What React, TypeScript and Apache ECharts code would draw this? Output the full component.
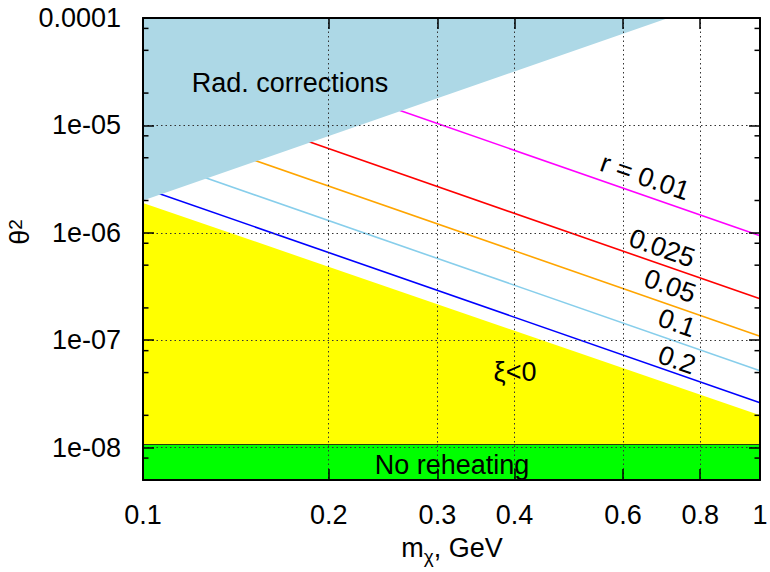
import React, { useEffect, useRef } from 'react';
import * as echarts from 'echarts';

const X_MIN = 0.1;
const X_MAX = 1;
const Y_MIN = 5e-9;
const Y_MAX = 1e-4;

const xTickValues = [0.1, 0.2, 0.3, 0.4, 0.6, 0.8, 1];
const xTickLabels = ['0.1', '0.2', '0.3', '0.4', '0.6', '0.8', '1'];
const xGridValues = [0.2, 0.3, 0.4, 0.6, 0.8];
const yTickValues = [1e-8, 1e-7, 1e-6, 1e-5, 1e-4];
const yTickLabels = ['1e-08', '1e-07', '1e-06', '1e-05', '0.0001'];
const yMinorTicks = [8e-9, 2e-8, 5e-8, 8e-8, 2e-7, 5e-7, 8e-7, 2e-6, 5e-6, 8e-6, 2e-5, 5e-5, 8e-5];

// regions
const radCorrections = [[0.1, 2.0e-6], [0.71, 1.0e-4]];
const xiNegative = [[0.1, 1.9e-6], [1, 2.0e-8]];
const noReheating = [[0.1, 1.07e-8], [1, 1.07e-8]];

// r curves
const r001 = [[0.25, 1.5e-5], [1, 9.4e-7]];
const r0025 = [[0.18, 7.5e-6], [1, 2.43e-7]];
const r005 = [[0.145, 5.18e-6], [1, 1.09e-7]];
const r01 = [[0.12, 3.61e-6], [1, 5.2e-8]];
const r02 = [[0.1, 2.62e-6], [1, 2.62e-8]];

const FONT = '"Liberation Sans", Arial, Helvetica, sans-serif';
const FS = 27;

function findLabel(vals: number[], labels: string[], v: number): string {
  for (let i = 0; i < vals.length; i++) {
    if (Math.abs(Math.log10(v) - Math.log10(vals[i])) < 1e-6) return labels[i];
  }
  return '';
}

const axisLineStyle = { color: '#000', width: 2 };
const tickLineStyle = { color: '#000', width: 1.5 };
const gridLineStyle = { color: '#333', width: 1, type: [1.5, 3] as any };

export default function App() {
  const ref = useRef<HTMLDivElement>(null);

  useEffect(() => {
    document.body.style.margin = '0';
    if (!ref.current) return;
    const chart = echarts.init(ref.current, null, { renderer: 'svg' });

    const lineSeries = (data: number[][], color: string) => ({
      type: 'line',
      data,
      symbol: 'none',
      showSymbol: false,
      silent: true,
      z: 2,
      lineStyle: { color, width: 1.6 },
    });

    const rotText = (text: string, x: number, y: number) => ({
      type: 'text',
      x,
      y,
      rotation: -0.335,
      z: 50,
      style: {
        text,
        fontSize: FS,
        fontFamily: FONT,
        fill: '#000',
        align: 'center',
        verticalAlign: 'middle',
      },
    });

    const option: any = {
      animation: false,
      backgroundColor: '#fff',
      grid: {
        left: 143,
        right: 10,
        top: 18,
        bottom: 92,
        containLabel: false,
        outerBoundsMode: 'none',
      },
      xAxis: [
        {
          type: 'log',
          logBase: 10,
          min: X_MIN,
          max: X_MAX,
          position: 'bottom',
          z: 10,
          axisLine: { show: true, onZero: false, lineStyle: axisLineStyle },
          axisTick: { show: true, inside: true, length: 11, customValues: xGridValues, lineStyle: tickLineStyle },
          axisLabel: {
            show: true,
            customValues: xTickValues,
            formatter: (v: number) => findLabel(xTickValues, xTickLabels, v),
            margin: 21,
            fontSize: FS,
            fontFamily: FONT,
            color: '#000',
          },
          splitLine: { show: true, lineStyle: gridLineStyle },
          minorTick: { show: false },
        },
        {
          type: 'log',
          logBase: 10,
          min: X_MIN,
          max: X_MAX,
          position: 'top',
          z: 10,
          axisLine: { show: true, onZero: false, lineStyle: axisLineStyle },
          axisTick: { show: true, inside: true, length: 11, customValues: xGridValues, lineStyle: tickLineStyle },
          axisLabel: { show: false },
          splitLine: { show: false },
        },
      ],
      yAxis: [
        {
          type: 'log',
          logBase: 10,
          min: Y_MIN,
          max: Y_MAX,
          position: 'left',
          z: 10,
          axisLine: { show: true, onZero: false, lineStyle: axisLineStyle },
          axisTick: { show: true, inside: true, length: 11, customValues: yTickValues, lineStyle: tickLineStyle },
          axisLabel: {
            show: true,
            customValues: yTickValues,
            formatter: (v: number) => findLabel(yTickValues, yTickLabels, v),
            margin: 22,
            fontSize: FS,
            fontFamily: FONT,
            color: '#000',
          },
          splitLine: { show: true, lineStyle: gridLineStyle },
        },
        {
          type: 'log',
          logBase: 10,
          min: Y_MIN,
          max: Y_MAX,
          position: 'right',
          z: 10,
          axisLine: { show: true, onZero: false, lineStyle: axisLineStyle },
          axisTick: { show: true, inside: true, length: 11, customValues: yTickValues, lineStyle: tickLineStyle },
          axisLabel: { show: false },
          splitLine: { show: false },
        },
      ],
      series: [
        {
          type: 'line',
          data: xiNegative,
          symbol: 'none',
          silent: true,
          z: 1,
          lineStyle: { width: 0 },
          areaStyle: { color: '#ffff00', opacity: 1, origin: 'start' },
        },
        {
          type: 'line',
          data: noReheating,
          symbol: 'none',
          silent: true,
          z: 1,
          lineStyle: { width: 1.2, color: '#2a3a10' },
          areaStyle: { color: '#00ff00', opacity: 1, origin: 'start' },
        },
        lineSeries(r001, '#ff00ff'),
        lineSeries(r0025, '#ff0000'),
        lineSeries(r005, '#ffa500'),
        lineSeries(r01, '#87ceeb'),
        lineSeries(r02, '#0000ff'),
        {
          type: 'line',
          data: radCorrections,
          symbol: 'none',
          silent: true,
          z: 3,
          lineStyle: { width: 0 },
          areaStyle: { color: '#add8e6', opacity: 1, origin: 'end' },
        },
        {
          type: 'custom',
          silent: true,
          z: 20,
          clip: false,
          data: yMinorTicks.map((v) => [X_MIN, v]),
          encode: { x: 0, y: 1 },
          renderItem: (_params: any, api: any) => {
            const l = api.coord([X_MIN, api.value(1)]);
            const r = api.coord([X_MAX, api.value(1)]);
            return {
              type: 'group',
              children: [
                { type: 'line', shape: { x1: l[0], y1: l[1], x2: l[0] + 5.5, y2: l[1] }, style: { stroke: '#000', lineWidth: 1.5 } },
                { type: 'line', shape: { x1: r[0] - 5.5, y1: r[1], x2: r[0], y2: r[1] }, style: { stroke: '#000', lineWidth: 1.5 } },
              ],
            };
          },
        },
      ],
      graphic: [
        {
          type: 'text',
          x: 290,
          y: 83,
          z: 50,
          style: { text: 'Rad. corrections', fontSize: FS, fontFamily: FONT, fill: '#000', align: 'center', verticalAlign: 'middle' },
        },
        {
          type: 'text',
          x: 452,
          y: 465,
          z: 50,
          style: { text: 'No reheating', fontSize: FS, fontFamily: FONT, fill: '#000', align: 'center', verticalAlign: 'middle' },
        },
        {
          type: 'text',
          x: 515,
          y: 372,
          z: 50,
          style: { text: 'ξ<0', fontSize: FS, fontFamily: FONT, fill: '#000', align: 'center', verticalAlign: 'middle' },
        },
        rotText('r = 0.01', 645, 177),
        rotText('0.025', 662, 248),
        rotText('0.05', 670, 286),
        rotText('0.1', 677, 323),
        rotText('0.2', 677, 360),
        {
          type: 'text',
          x: 452,
          y: 548,
          z: 50,
          style: {
            text: '{a|m}{b|χ}{a|, GeV}',
            align: 'center',
            verticalAlign: 'middle',
            fill: '#000',
            fontSize: FS,
            fontFamily: FONT,
            rich: {
              a: { fontSize: FS, fontFamily: FONT, fill: '#000', lineHeight: 30 },
              b: { fontSize: 19, fontFamily: FONT, fill: '#000', lineHeight: 30, padding: [16, 0, 0, 0] },
            },
          },
        },
        {
          type: 'text',
          x: 20,
          y: 232,
          rotation: Math.PI / 2,
          z: 50,
          style: {
            text: '{a|θ}{b|2}',
            align: 'center',
            verticalAlign: 'middle',
            fill: '#000',
            fontSize: FS,
            fontFamily: FONT,
            rich: {
              a: { fontSize: FS, fontFamily: FONT, fill: '#000', lineHeight: 28 },
              b: { fontSize: 19, fontFamily: FONT, fill: '#000', lineHeight: 24, padding: [0, 0, 10, 0] },
            },
          },
        },
      ],
    };

    chart.setOption(option);
    return () => {
      chart.dispose();
    };
  }, []);

  return <div ref={ref} style={{ width: 770, height: 572 }} />;
}
